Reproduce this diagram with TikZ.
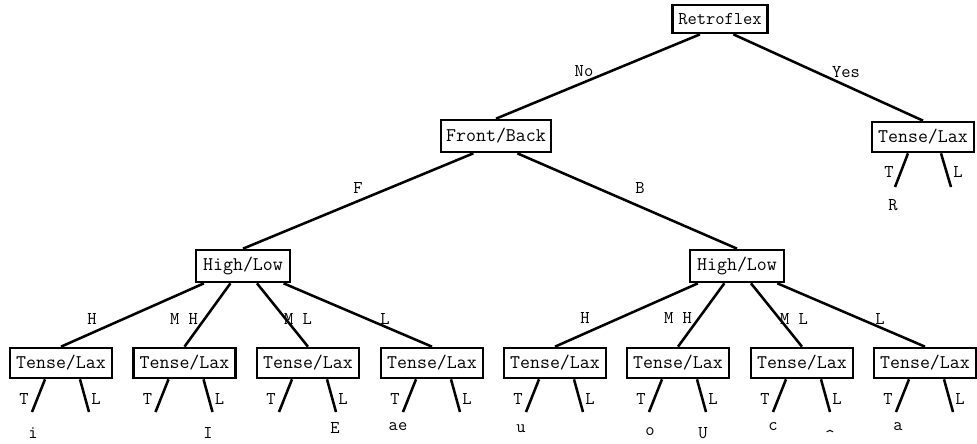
\documentclass[tikz,border=0pt]{standalone}
\begin{document}
\begin{tikzpicture}[x=0.75pt,y=-0.75pt,
  box/.style={draw,line width=2pt,inner sep=0pt,fill=white,
    font=\fontsize{14.5}{16}\selectfont\ttfamily},
  tlbox/.style={box,minimum width=76.5pt,minimum height=22.5pt},
  hlbox/.style={box,minimum width=70.5pt,minimum height=24pt},
  edge/.style={line width=1.9pt},
  lab/.style={inner sep=0pt,font=\fontsize{13.5}{15}\selectfont\ttfamily},
  leaf/.style={lab,anchor=base}]
\useasboundingbox (0,0) rectangle (977,443);

% decision nodes
\node[box,minimum width=71.25pt,minimum height=21pt,
  font=\fontsize{13.5}{15}\selectfont\ttfamily] (ret) at (720,19) {Retroflex};
\node[box,minimum width=82.5pt,minimum height=24pt] (fb) at (496,136) {Front/Back};
\node[tlbox] (tr) at (923,137) {Tense/Lax};
\node[hlbox] (hl1) at (243,266) {High/Low};
\node[hlbox] (hl2) at (737,266) {High/Low};

% upper branches
\draw[edge] ([xshift=-15pt]ret.south) -- (fb.north);
\draw[edge] ([xshift=10pt]ret.south) -- (tr.north);
\draw[edge] ([xshift=-17pt]fb.south) -- (hl1.north);
\draw[edge] ([xshift=16pt]fb.south) -- (hl2.north);
\node[lab] (lno) at (584,71) {No};
\node[lab] (lyes) at (846,72) {Yes};
\node[lab] (lf) at (358,188) {F};
\node[lab] (lb) at (640,188) {B};

% Tense/Lax leaves
\foreach \n/\x in {b1/61, b2/184.5, b3/308, b4/432, b5/555, b6/678, b7/802, b8/925} {
  \node[tlbox] (\n) at (\x,363) {Tense/Lax};
  \coordinate (\n t) at (\x-29,412);
  \coordinate (\n l) at (\x+28,412);
  \draw[edge] ([xshift=-12pt]\n.south) -- (\n t);
  \draw[edge] ([xshift=14.25pt]\n.south) -- (\n l);
  \node[lab] at (\x-37,399) {T};
  \node[lab] at (\x+35,399) {L};
}

% vowel height branches
\foreach \p/\a/\b/\c/\d in {hl1/b1/b2/b3/b4, hl2/b5/b6/b7/b8} {
  \draw[edge] (\p) -- (\a.north);
  \draw[edge] (\p) -- (\b.north);
  \draw[edge] (\p) -- (\c.north);
  \draw[edge] (\p) -- (\d.north);
}
\node[lab] at (92,319) {H};
\node[lab] at (184,319) {M H};
\node[lab] at (298,319) {M L};
\node[lab] at (385,319) {L};
\node[lab] at (585,318) {H};
\node[lab] at (678,318) {M H};
\node[lab] at (794,319) {M L};
\node[lab] at (880,319) {L};

% retroflex Tense/Lax split
\coordinate (trt) at (895,187);
\coordinate (trl) at (951,187);
\draw[edge] ([xshift=-11.25pt]tr.south) -- (trt);
\draw[edge] ([xshift=13.5pt]tr.south) -- (trl);
\node[lab] at (889,172) {T};
\node[lab] at (958,172) {L};

% vowel symbols
\node[leaf] at (33,438) {i};
\node[leaf] at (208,438) {I};
\node[leaf] at (335,433) {E};
\node[leaf] at (398,430) {ae};
\node[leaf] at (521,432) {u};
\node[leaf] at (650,435) {o};
\node[leaf] at (703,438) {U};
\node[leaf] at (773,430) {c};
\node[leaf] at (830,441) {\textasciicircum};
\node[leaf] at (898,430) {a};
\node[leaf] at (893,210) {R};
\end{tikzpicture}
\end{document}
